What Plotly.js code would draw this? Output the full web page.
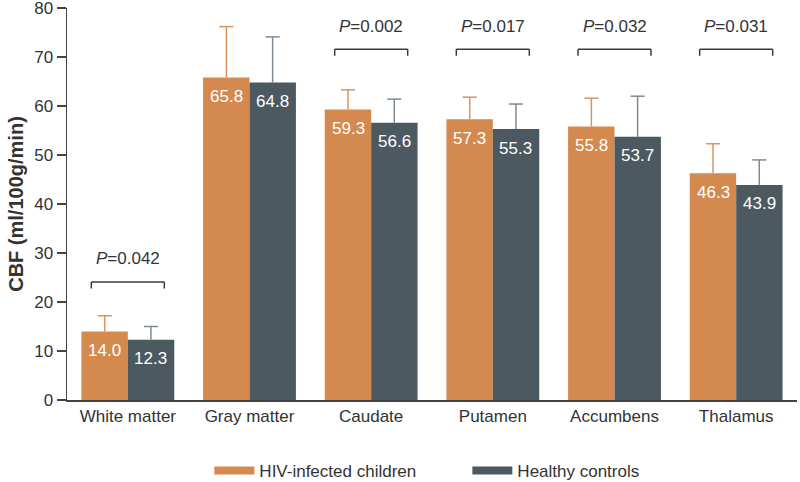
<!DOCTYPE html>
<html>
<head>
<meta charset="utf-8">
<script src="https://cdn.plot.ly/plotly-3.0.1.min.js"></script>
<style>html,body{margin:0;padding:0;background:#fff;}#chart{width:800px;height:482px;}</style>
</head>
<body>
<div id="chart"></div>
<script>
const categories = ['White matter','Gray matter','Caudate','Putamen','Accumbens','Thalamus'];
const hivValues = [14.0, 65.8, 59.3, 57.3, 55.8, 46.3];
const hivErrors = [3.2, 10.4, 4.0, 4.5, 5.8, 6.0];
const healthyValues = [12.3, 64.8, 56.6, 55.3, 53.7, 43.9];
const healthyErrors = [2.7, 9.3, 4.8, 5.1, 8.3, 5.1];
const seriesNames = ['HIV-infected children', 'Healthy controls'];
const pCategories = ['White matter','Caudate','Putamen','Accumbens','Thalamus'];
const pValues = ['0.042','0.002','0.017','0.032','0.031'];
const pBracketLevels = [24.1, 71.6, 71.6, 71.6, 71.6];
const yTicks = [0,10,20,30,40,50,60,70,80];

const orange = '#D4894F';
const slate = '#4D5960';
const orangeErr = '#D9935E';
const slateErr = '#7E8A93';
const txt = '#333333';
const FONT = 'Liberation Sans, Arial, sans-serif';

const traces = [
  {type:'bar', x:categories, y:hivValues, name:seriesNames[0], showlegend:false,
   marker:{color:orange, line:{width:0}}},
  {type:'bar', x:categories, y:healthyValues, name:seriesNames[1], showlegend:false,
   marker:{color:slate, line:{width:0}}},
  {type:'scatter', mode:'lines', x:[null], y:[null], name:seriesNames[0], line:{color:orange, width:8}, hoverinfo:'skip'},
  {type:'scatter', mode:'lines', x:[null], y:[null], name:seriesNames[1], line:{color:slate, width:8}, hoverinfo:'skip'}
];

const annotations = [];
const shapes = [];
const offset = 0.19;      // half of a bar slot, in category units
const capHalf = 0.058;    // half error-bar cap width, category units

function addErrorBar(xc, v, e, color){
  const ln = {color:color, width:1.5};
  shapes.push({type:'line', layer:'above', xref:'x', yref:'y', x0:xc, x1:xc, y0:v, y1:v+e, line:ln});
  shapes.push({type:'line', layer:'above', xref:'x', yref:'y', x0:xc-capHalf, x1:xc+capHalf, y0:v+e, y1:v+e, line:ln});
}

categories.forEach((c,i)=>{
  addErrorBar(i-offset, hivValues[i], hivErrors[i], orangeErr);
  addErrorBar(i+offset, healthyValues[i], healthyErrors[i], slateErr);
  annotations.push({x:i-offset, y:hivValues[i], xref:'x', yref:'y', text:hivValues[i].toFixed(1), showarrow:false, yanchor:'middle', yshift:-19, font:{family:FONT, size:17, color:'#ffffff'}});
  annotations.push({x:i+offset, y:healthyValues[i], xref:'x', yref:'y', text:healthyValues[i].toFixed(1), showarrow:false, yanchor:'middle', yshift:-19, font:{family:FONT, size:17, color:'#ffffff'}});
});

const half = 0.30, drop = 1.35;
pCategories.forEach((c,k)=>{
  const i = categories.indexOf(c);
  const lv = pBracketLevels[k];
  const ln = {color:'#3a3a3a', width:1.5};
  shapes.push({type:'line', xref:'x', yref:'y', x0:i-half, x1:i+half, y0:lv, y1:lv, line:ln});
  shapes.push({type:'line', xref:'x', yref:'y', x0:i-half, x1:i-half, y0:lv, y1:lv-drop, line:ln});
  shapes.push({type:'line', xref:'x', yref:'y', x0:i+half, x1:i+half, y0:lv, y1:lv-drop, line:ln});
  annotations.push({x:i, y:lv, xref:'x', yref:'y', text:'<i>P</i>=' + pValues[k], showarrow:false, yanchor:'middle', yshift:23, font:{family:FONT, size:17, color:txt}});
});

const layout = {
  width:800, height:482,
  margin:{l:67, r:3, t:8, b:82},
  paper_bgcolor:'#ffffff', plot_bgcolor:'#ffffff',
  font:{family:FONT, size:17, color:txt},
  barmode:'group', bargap:0.237, bargroupgap:0,
  xaxis:{type:'category', showline:true, linecolor:'#444', linewidth:1.5, ticks:'', showgrid:false, zeroline:false,
         tickfont:{family:FONT, size:17, color:txt}, range:[-0.5, 5.5], automargin:false},
  yaxis:{range:[0,80], tickvals:yTicks, showline:true, linecolor:'#444', linewidth:1.5, ticks:'outside', ticklen:9, tickwidth:1.5, tickcolor:'#444',
         showgrid:false, zeroline:false, tickfont:{family:FONT, size:17, color:txt}, ticklabeloverflow:'allow', automargin:false,
         title:{text:'<b>CBF (ml/100g/min)</b>', font:{family:FONT, size:20, color:txt}, standoff:5}},
  legend:{orientation:'h', xref:'paper', x:0.195, xanchor:'left', yref:'container', y:1-471/482, yanchor:'middle',
          font:{family:FONT, size:17, color:txt}, itemwidth:40, entrywidth:203, bgcolor:'rgba(0,0,0,0)'},
  annotations:annotations,
  shapes:shapes,
  showlegend:true
};

Plotly.newPlot('chart', traces, layout, {displayModeBar:false, staticPlot:true});
</script>
</body>
</html>
